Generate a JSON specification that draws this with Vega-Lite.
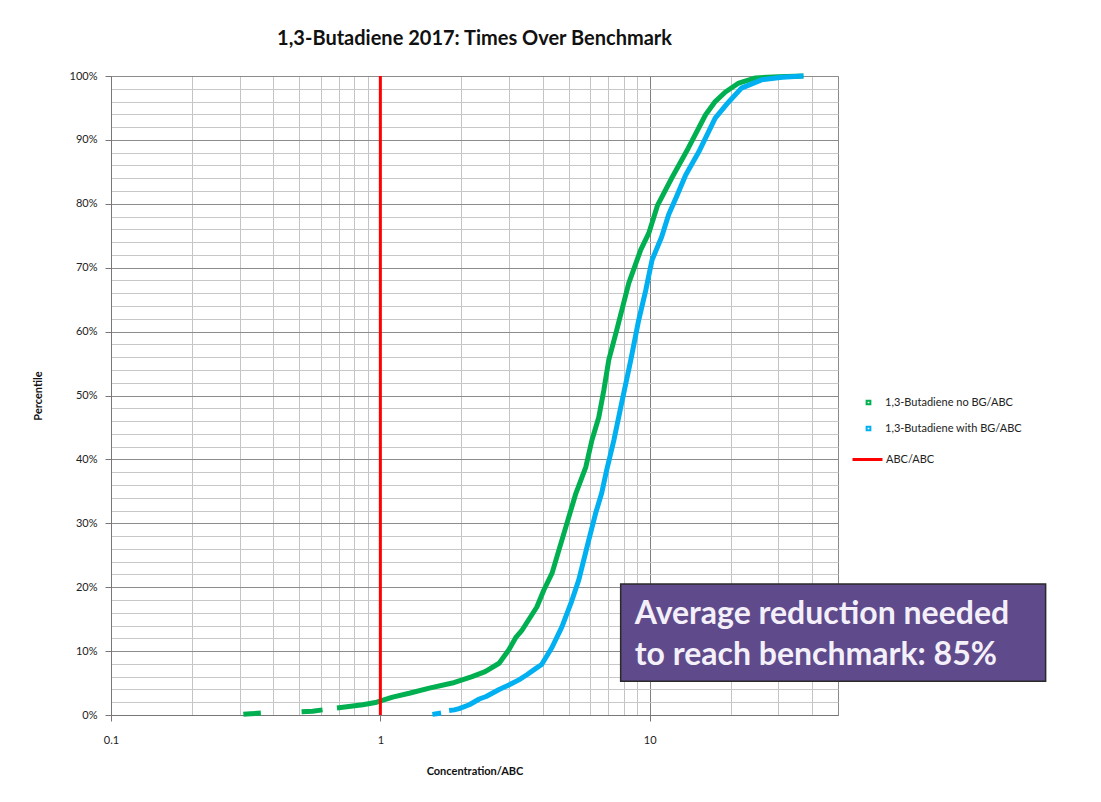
{
  "$schema": "https://vega.github.io/schema/vega-lite/v6.json",
  "width": 727,
  "height": 639,
  "autosize": "none",
  "padding": {"left": 111, "top": 76, "right": 263, "bottom": 87},
  "background": "white",
  "title": {
    "text": "1,3-Butadiene 2017: Times Over Benchmark",
    "font": "Lato",
    "fontSize": 20,
    "fontWeight": "bold",
    "color": "#111",
    "anchor": "middle",
    "offset": 21
  },
  "config": {
    "view": {"stroke": "#8a8a8a", "strokeWidth": 1},
    "font": "Lato",
    "axis": {"labelFont": "Lato", "titleFont": "Lato"}
  },
  "resolve": {"scale": {"color": "independent"}},
  "layer": [
    {
      "data": {
        "values": [
          {"series": "1,3-Butadiene no BG/ABC", "seg": "a", "conc": 0.31, "pct": 0.1},
          {"series": "1,3-Butadiene no BG/ABC", "seg": "a", "conc": 0.33, "pct": 0.2},
          {"series": "1,3-Butadiene no BG/ABC", "seg": "a", "conc": 0.36, "pct": 0.3},
          {"series": "1,3-Butadiene no BG/ABC", "seg": "b", "conc": 0.51, "pct": 0.5},
          {"series": "1,3-Butadiene no BG/ABC", "seg": "b", "conc": 0.56, "pct": 0.6},
          {"series": "1,3-Butadiene no BG/ABC", "seg": "b", "conc": 0.61, "pct": 0.8},
          {"series": "1,3-Butadiene no BG/ABC", "seg": "c", "conc": 0.69, "pct": 1.1},
          {"series": "1,3-Butadiene no BG/ABC", "seg": "c", "conc": 0.79, "pct": 1.4},
          {"series": "1,3-Butadiene no BG/ABC", "seg": "c", "conc": 0.86, "pct": 1.6},
          {"series": "1,3-Butadiene no BG/ABC", "seg": "c", "conc": 0.97, "pct": 2.0},
          {"series": "1,3-Butadiene no BG/ABC", "seg": "c", "conc": 1.11, "pct": 2.8},
          {"series": "1,3-Butadiene no BG/ABC", "seg": "c", "conc": 1.28, "pct": 3.4},
          {"series": "1,3-Butadiene no BG/ABC", "seg": "c", "conc": 1.52, "pct": 4.2},
          {"series": "1,3-Butadiene no BG/ABC", "seg": "c", "conc": 1.85, "pct": 5.0},
          {"series": "1,3-Butadiene no BG/ABC", "seg": "c", "conc": 2.19, "pct": 6.0},
          {"series": "1,3-Butadiene no BG/ABC", "seg": "c", "conc": 2.45, "pct": 6.8},
          {"series": "1,3-Butadiene no BG/ABC", "seg": "c", "conc": 2.76, "pct": 8.1},
          {"series": "1,3-Butadiene no BG/ABC", "seg": "c", "conc": 3.0, "pct": 10.2},
          {"series": "1,3-Butadiene no BG/ABC", "seg": "c", "conc": 3.19, "pct": 12.2},
          {"series": "1,3-Butadiene no BG/ABC", "seg": "c", "conc": 3.36, "pct": 13.3},
          {"series": "1,3-Butadiene no BG/ABC", "seg": "c", "conc": 3.81, "pct": 16.9},
          {"series": "1,3-Butadiene no BG/ABC", "seg": "c", "conc": 4.05, "pct": 19.6},
          {"series": "1,3-Butadiene no BG/ABC", "seg": "c", "conc": 4.34, "pct": 22.2},
          {"series": "1,3-Butadiene no BG/ABC", "seg": "c", "conc": 4.6, "pct": 25.8},
          {"series": "1,3-Butadiene no BG/ABC", "seg": "c", "conc": 4.88, "pct": 29.4},
          {"series": "1,3-Butadiene no BG/ABC", "seg": "c", "conc": 5.32, "pct": 34.7},
          {"series": "1,3-Butadiene no BG/ABC", "seg": "c", "conc": 5.79, "pct": 38.8},
          {"series": "1,3-Butadiene no BG/ABC", "seg": "c", "conc": 6.1, "pct": 43.0},
          {"series": "1,3-Butadiene no BG/ABC", "seg": "c", "conc": 6.47, "pct": 46.6},
          {"series": "1,3-Butadiene no BG/ABC", "seg": "c", "conc": 6.76, "pct": 50.9},
          {"series": "1,3-Butadiene no BG/ABC", "seg": "c", "conc": 7.05, "pct": 55.6},
          {"series": "1,3-Butadiene no BG/ABC", "seg": "c", "conc": 7.55, "pct": 60.3},
          {"series": "1,3-Butadiene no BG/ABC", "seg": "c", "conc": 8.36, "pct": 67.6},
          {"series": "1,3-Butadiene no BG/ABC", "seg": "c", "conc": 9.26, "pct": 72.8},
          {"series": "1,3-Butadiene no BG/ABC", "seg": "c", "conc": 9.92, "pct": 75.4},
          {"series": "1,3-Butadiene no BG/ABC", "seg": "c", "conc": 10.7, "pct": 79.8},
          {"series": "1,3-Butadiene no BG/ABC", "seg": "c", "conc": 12.06, "pct": 84.0},
          {"series": "1,3-Butadiene no BG/ABC", "seg": "c", "conc": 13.9, "pct": 88.7},
          {"series": "1,3-Butadiene no BG/ABC", "seg": "c", "conc": 16.1, "pct": 93.9},
          {"series": "1,3-Butadiene no BG/ABC", "seg": "c", "conc": 17.5, "pct": 96.0},
          {"series": "1,3-Butadiene no BG/ABC", "seg": "c", "conc": 19.1, "pct": 97.5},
          {"series": "1,3-Butadiene no BG/ABC", "seg": "c", "conc": 21.4, "pct": 98.9},
          {"series": "1,3-Butadiene no BG/ABC", "seg": "c", "conc": 24.7, "pct": 99.7},
          {"series": "1,3-Butadiene no BG/ABC", "seg": "c", "conc": 30.0, "pct": 99.9},
          {"series": "1,3-Butadiene no BG/ABC", "seg": "c", "conc": 37.2, "pct": 100.0},
          {"series": "1,3-Butadiene with BG/ABC", "seg": "a", "conc": 1.56, "pct": 0.1},
          {"series": "1,3-Butadiene with BG/ABC", "seg": "a", "conc": 1.62, "pct": 0.2},
          {"series": "1,3-Butadiene with BG/ABC", "seg": "a", "conc": 1.68, "pct": 0.3},
          {"series": "1,3-Butadiene with BG/ABC", "seg": "b", "conc": 1.8, "pct": 0.7},
          {"series": "1,3-Butadiene with BG/ABC", "seg": "b", "conc": 1.88, "pct": 0.8},
          {"series": "1,3-Butadiene with BG/ABC", "seg": "b", "conc": 1.96, "pct": 1.0},
          {"series": "1,3-Butadiene with BG/ABC", "seg": "b", "conc": 2.14, "pct": 1.6},
          {"series": "1,3-Butadiene with BG/ABC", "seg": "b", "conc": 2.33, "pct": 2.5},
          {"series": "1,3-Butadiene with BG/ABC", "seg": "b", "conc": 2.47, "pct": 2.9},
          {"series": "1,3-Butadiene with BG/ABC", "seg": "b", "conc": 2.76, "pct": 4.0},
          {"series": "1,3-Butadiene with BG/ABC", "seg": "b", "conc": 3.0, "pct": 4.7},
          {"series": "1,3-Butadiene with BG/ABC", "seg": "b", "conc": 3.27, "pct": 5.5},
          {"series": "1,3-Butadiene with BG/ABC", "seg": "b", "conc": 3.5, "pct": 6.3},
          {"series": "1,3-Butadiene with BG/ABC", "seg": "b", "conc": 3.78, "pct": 7.3},
          {"series": "1,3-Butadiene with BG/ABC", "seg": "b", "conc": 3.97, "pct": 7.9},
          {"series": "1,3-Butadiene with BG/ABC", "seg": "b", "conc": 4.34, "pct": 10.6},
          {"series": "1,3-Butadiene with BG/ABC", "seg": "b", "conc": 4.72, "pct": 13.8},
          {"series": "1,3-Butadiene with BG/ABC", "seg": "b", "conc": 5.1, "pct": 17.5},
          {"series": "1,3-Butadiene with BG/ABC", "seg": "b", "conc": 5.45, "pct": 21.1},
          {"series": "1,3-Butadiene with BG/ABC", "seg": "b", "conc": 5.94, "pct": 27.4},
          {"series": "1,3-Butadiene with BG/ABC", "seg": "b", "conc": 6.3, "pct": 31.6},
          {"series": "1,3-Butadiene with BG/ABC", "seg": "b", "conc": 6.63, "pct": 34.7},
          {"series": "1,3-Butadiene with BG/ABC", "seg": "b", "conc": 6.92, "pct": 38.3},
          {"series": "1,3-Butadiene with BG/ABC", "seg": "b", "conc": 7.36, "pct": 43.0},
          {"series": "1,3-Butadiene with BG/ABC", "seg": "b", "conc": 7.81, "pct": 48.2},
          {"series": "1,3-Butadiene with BG/ABC", "seg": "b", "conc": 8.51, "pct": 55.6},
          {"series": "1,3-Butadiene with BG/ABC", "seg": "b", "conc": 9.1, "pct": 61.8},
          {"series": "1,3-Butadiene with BG/ABC", "seg": "b", "conc": 9.67, "pct": 66.5},
          {"series": "1,3-Butadiene with BG/ABC", "seg": "b", "conc": 10.2, "pct": 71.2},
          {"series": "1,3-Butadiene with BG/ABC", "seg": "b", "conc": 11.07, "pct": 74.8},
          {"series": "1,3-Butadiene with BG/ABC", "seg": "b", "conc": 11.75, "pct": 78.3},
          {"series": "1,3-Butadiene with BG/ABC", "seg": "b", "conc": 12.6, "pct": 81.2},
          {"series": "1,3-Butadiene with BG/ABC", "seg": "b", "conc": 13.6, "pct": 84.5},
          {"series": "1,3-Butadiene with BG/ABC", "seg": "b", "conc": 15.2, "pct": 88.1},
          {"series": "1,3-Butadiene with BG/ABC", "seg": "b", "conc": 17.5, "pct": 93.4},
          {"series": "1,3-Butadiene with BG/ABC", "seg": "b", "conc": 19.6, "pct": 95.9},
          {"series": "1,3-Butadiene with BG/ABC", "seg": "b", "conc": 21.9, "pct": 98.1},
          {"series": "1,3-Butadiene with BG/ABC", "seg": "b", "conc": 26.0, "pct": 99.4},
          {"series": "1,3-Butadiene with BG/ABC", "seg": "b", "conc": 31.0, "pct": 99.8},
          {"series": "1,3-Butadiene with BG/ABC", "seg": "b", "conc": 37.2, "pct": 100.0}
        ]
      },
      "mark": {"type": "line", "strokeWidth": 5, "strokeCap": "butt", "strokeJoin": "round"},
      "encoding": {
        "x": {
          "field": "conc",
          "type": "quantitative",
          "scale": {"type": "log", "domain": [0.1, 50], "nice": false},
          "axis": {
            "title": "Concentration/ABC",
            "titleFontSize": 11,
            "titleFontWeight": "bold",
            "titleColor": "#111",
            "titlePadding": 20,
            "values": [0.1, 0.2, 0.3, 0.4, 0.5, 0.6, 0.7, 0.8, 0.9, 1, 2, 3, 4, 5, 6, 7, 8, 9, 10, 20, 30, 40],
            "tickCount": 100,
            "labelExpr": "(datum.value == 0.1 || datum.value == 1 || datum.value == 10) ? format(datum.value, '~g') : ''",
            "labelFontSize": 11,
            "labelColor": "#222",
            "labelPadding": 13,
            "labelFlush": false,
            "labelOverlap": false,
            "tickSize": 6,
            "tickColor": "#777",
            "tickOpacity": {"condition": {"test": "datum.value == 0.1 || datum.value == 1 || datum.value == 10", "value": 1}, "value": 0},
            "domainColor": "#777",
            "grid": true,
            "gridColor": {"condition": {"test": "datum.value == 0.1 || datum.value == 1 || datum.value == 10", "value": "#808080"}, "value": "#c4c4c4"},
            "gridWidth": 1
          }
        },
        "y": {
          "field": "pct",
          "type": "quantitative",
          "scale": {"domain": [0, 100], "nice": false},
          "axis": {
            "title": "Percentile",
            "titleFontSize": 11,
            "titleFontWeight": "bold",
            "titleColor": "#111",
            "titlePadding": 26,
            "values": [0, 2, 4, 6, 8, 10, 12, 14, 16, 18, 20, 22, 24, 26, 28, 30, 32, 34, 36, 38, 40, 42, 44, 46, 48, 50, 52, 54, 56, 58, 60, 62, 64, 66, 68, 70, 72, 74, 76, 78, 80, 82, 84, 86, 88, 90, 92, 94, 96, 98, 100],
            "tickCount": 100,
            "labelExpr": "datum.value % 10 == 0 ? datum.value + '%' : ''",
            "labelFontSize": 11,
            "labelColor": "#222",
            "labelPadding": 8,
            "labelOverlap": false,
            "tickSize": 6,
            "tickColor": "#777",
            "tickOpacity": {"condition": {"test": "datum.value % 10 == 0", "value": 1}, "value": 0},
            "domainColor": "#777",
            "grid": true,
            "gridColor": {"condition": {"test": "datum.value % 10 == 0", "value": "#8c8c8c"}, "value": "#c8c8c8"},
            "gridWidth": 1
          }
        },
        "detail": {"field": "seg"},
        "color": {
          "field": "series",
          "type": "nominal",
          "scale": {"domain": ["1,3-Butadiene no BG/ABC", "1,3-Butadiene with BG/ABC"], "range": ["#00B050", "#00B0F0"]},
          "legend": {
            "title": null,
            "orient": "none",
            "legendX": 752,
            "legendY": 321,
            "symbolType": "square",
            "symbolSize": 14,
            "symbolStrokeWidth": 2,
            "labelFontSize": 11,
            "labelColor": "#222",
            "labelOffset": 11,
            "rowPadding": 13
          }
        }
      }
    },
    {
      "data": {"values": [{"ref": "ABC/ABC", "conc": 1}]},
      "mark": {"type": "rule", "strokeWidth": 3},
      "encoding": {
        "x": {"field": "conc", "type": "quantitative"},
        "color": {
          "field": "ref",
          "type": "nominal",
          "scale": {"domain": ["ABC/ABC"], "range": ["#FF0000"]},
          "legend": {
            "title": null,
            "orient": "none",
            "legendX": 740,
            "legendY": 367,
            "symbolType": "stroke",
            "symbolSize": 900,
            "symbolStrokeWidth": 3,
            "labelFontSize": 11,
            "labelColor": "#222",
            "labelOffset": 2
          }
        }
      }
    },
    {
      "data": {"values": [{"conc": 7.8, "conc2": 295, "pct": 20.5, "pct2": 5.3}]},
      "mark": {"type": "rect", "fill": "#5F4A8B", "stroke": "#2a2a2a", "strokeWidth": 1.5},
      "encoding": {
        "x": {"field": "conc", "type": "quantitative"},
        "x2": {"field": "conc2"},
        "y": {"field": "pct", "type": "quantitative"},
        "y2": {"field": "pct2"}
      }
    },
    {
      "data": {
        "values": [
          {"label": "Average reduction needed", "conc": 8.8, "pct": 15.8},
          {"label": "to reach benchmark: 85%", "conc": 8.8, "pct": 9.4}
        ]
      },
      "mark": {"type": "text", "align": "left", "baseline": "middle", "font": "Lato", "fontSize": 32, "fontWeight": "bold", "color": "#F4F0FA"},
      "encoding": {
        "x": {"field": "conc", "type": "quantitative"},
        "y": {"field": "pct", "type": "quantitative"},
        "text": {"field": "label"}
      }
    }
  ]
}
